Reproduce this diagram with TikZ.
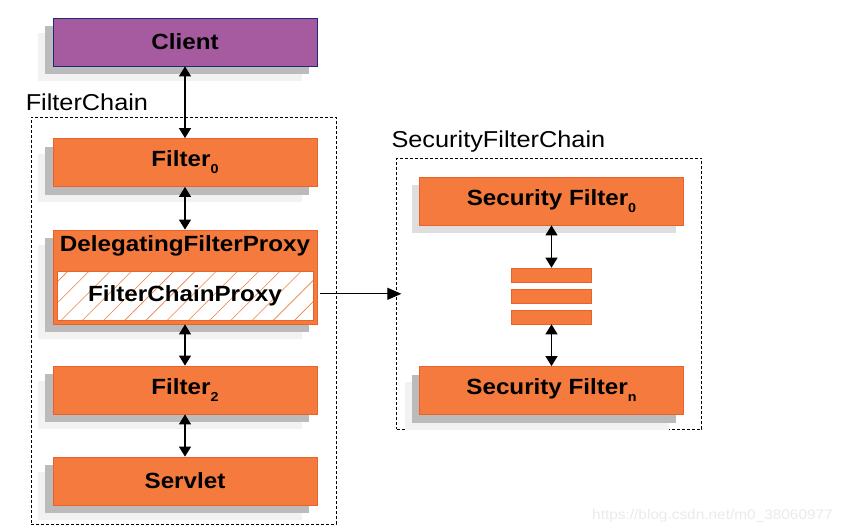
\documentclass[tikz,border=0pt]{standalone}
\usepackage{fontspec}
\setmainfont{Liberation Sans}[FakeStretch=1.1]
\usetikzlibrary{arrows.meta,patterns.meta,shadows}
\definecolor{filterorange}{HTML}{F47A3D}
\definecolor{filteredge}{HTML}{E8622C}
\definecolor{clientpurple}{HTML}{A65BA0}
\definecolor{clientedge}{HTML}{1E2A78}
\definecolor{shadowdark}{HTML}{BBBBBB}
\definecolor{shadowpale}{HTML}{DEDEDE}
\definecolor{shadowlight}{HTML}{F2F2F2}
\definecolor{wmgray}{HTML}{EAEAEA}
\newcommand{\subidx}[1]{\raisebox{-7pt}{\fontsize{13}{13}\selectfont #1}}

\begin{document}
\begin{tikzpicture}[x=1pt, y=-1pt,
    boxshadow/.style={general shadow={fill=shadowlight, shadow xshift=-15pt, shadow yshift=-15pt},
                      general shadow={fill=shadowdark, shadow xshift=-8pt, shadow yshift=-8pt}},
    paleshadow/.style={general shadow={fill=shadowpale, shadow xshift=-8pt, shadow yshift=-8pt}},
    boxtext/.style={font=\fontsize{22}{24}\selectfont\bfseries},
    filterbox/.style={draw=filteredge, fill=filterorange, line width=0.8pt, inner sep=0pt,
                      minimum width=264pt, minimum height=48pt, boxtext},
    chainbox/.style={draw, line width=0.9pt, dash pattern=on 3pt off 2pt, inner sep=0pt},
    chainlabel/.style={anchor=base west, inner sep=0pt, font=\fontsize{23}{26}\selectfont},
    dblarrow/.style={{Triangle[length=10pt,width=12pt]}-{Triangle[length=10pt,width=12pt]}, line width=1.3pt},
    ]
    \useasboundingbox (0,0) rectangle (844,530);

    % containers
    \node[chainbox, minimum width=305pt, minimum height=407pt] (fc) at (183.5,320.5) {};
    \node[chainlabel] at ([shift={(-5pt,6pt)}]fc.north west) {FilterChain};
    \node[chainbox, minimum width=305pt, minimum height=271pt] (sfc) at (549.3,293.8) {};
    \node[chainlabel] at ([shift={(-5pt,10.5pt)}]sfc.north west) {SecurityFilterChain};

    % left chain
    \node[filterbox, boxshadow, fill=clientpurple, draw=clientedge] (client) at (185,42) {Client};
    \node[filterbox, boxshadow] (f0) at (185,162.5) {Filter\subidx{0}};
    \node[filterbox, boxshadow, minimum height=94pt] (dfp) at (185,277) {};
    \node[boxtext, anchor=north, inner sep=0pt] at ([yshift=-6pt]dfp.north) {DelegatingFilterProxy};
    \node[draw=filteredge, line width=0.8pt, preaction={fill=white},
          pattern={Lines[angle=45,distance=15pt,line width=0.6pt]}, pattern color=filterorange,
          minimum width=256pt, minimum height=49pt, inner sep=0pt, boxtext] (fcp) at (185,295.5) {FilterChainProxy};
    \node[filterbox, boxshadow] (f2) at (185,390) {Filter\subidx{2}};
    \node[filterbox, boxshadow] (servlet) at (185,481) {Servlet};

    % security chain
    \node[filterbox, paleshadow] (sf0) at (551.5,201) {Security Filter\subidx{0}};
    \node[draw=filteredge, fill=filterorange, line width=0.6pt, minimum width=80pt, minimum height=14pt, inner sep=0pt] (bar1) at (551.5,275) {};
    \node[draw=filteredge, fill=filterorange, line width=0.6pt, minimum width=80pt, minimum height=14pt, inner sep=0pt] (bar2) at (551.5,296) {};
    \node[draw=filteredge, fill=filterorange, line width=0.6pt, minimum width=80pt, minimum height=14pt, inner sep=0pt] (bar3) at (551.5,317) {};
    \node[filterbox, boxshadow] (sfn) at (551.5,390.5) {Security Filter\subidx{n}};

    % arrows
    \draw[dblarrow] (client) -- (f0);
    \draw[dblarrow] (f0) -- (dfp);
    \draw[dblarrow] (dfp) -- (f2);
    \draw[dblarrow] (f2) -- (servlet);
    \draw[dblarrow] (sf0) -- (bar1);
    \draw[dblarrow] (bar3) -- (sfn);
    \draw[-{Triangle[length=14pt,width=12pt]}, line width=1pt, shorten <=7pt, shorten >=-5pt] (fcp.east |- sfc.west) -- (sfc.west);

    \node[anchor=base east, inner sep=0pt, text=wmgray, font=\fontsize{14}{14}\selectfont] at (833,519) {https://blog.csdn.net/m0\_38060977};
\end{tikzpicture}
\end{document}
